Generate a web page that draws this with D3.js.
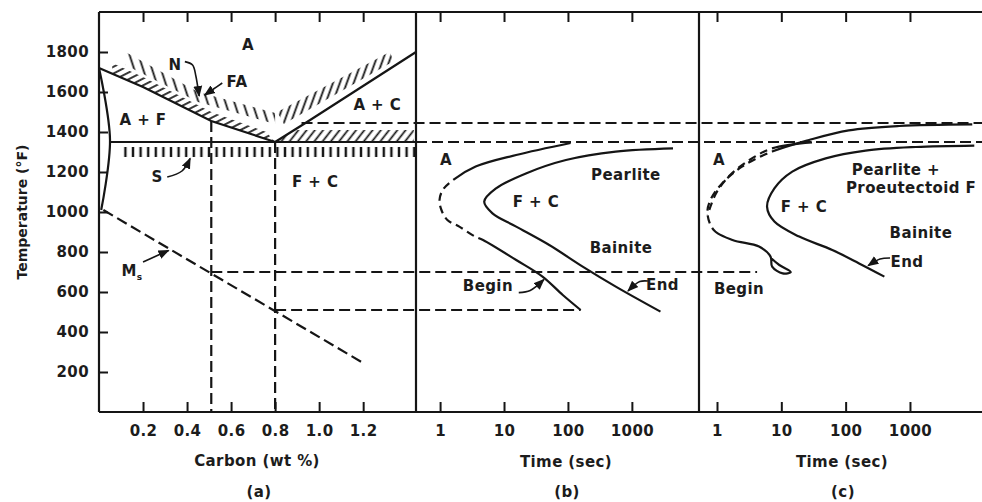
<!DOCTYPE html>
<html>
<head>
<meta charset="utf-8">
<script src="https://cdn.jsdelivr.net/npm/d3@7/dist/d3.min.js"></script>
<style>
body { margin: 0; background: #fff; }
text { font-family: "DejaVu Sans", Arial, sans-serif; font-weight: bold; fill: #1c1c1c; letter-spacing: 0.4px; }
</style>
</head>
<body>
<div id="chart"></div>
<script>
// ---------- data ----------
const tempTicks = [200, 400, 600, 800, 1000, 1200, 1400, 1600, 1800];
const carbonTicks = [0.2, 0.4, 0.6, 0.8, 1.0, 1.2];
const timeTicks = [1, 10, 100, 1000];

// (a) Fe-C diagram, [wt % C, deg F]
const a3Line = [[0, 1720], [0.2, 1625], [0.51, 1455], [0.8, 1350]];
const acmLine = [[0.8, 1350], [0.945, 1450], [1.44, 1800]];
const ferriteLine = [[0, 1720], [0.05, 1360], [0.01, 1010]];
const a1Line = [[0.05, 1350], [1.44, 1350]];
const msLine = [[0.02, 1010], [1.2, 245]];
const faBandLeft = [[0.06, 1692], [0.2, 1625], [0.51, 1455], [0.8, 1350], [0.76, 1400], [0.51, 1500], [0.2, 1675], [0.06, 1745]];
const faBandRight = [[0.8, 1350], [1.43, 1350], [1.43, 1410], [0.89, 1410]];
const nBandLeft = [[0.12, 1800], [0.45, 1600], [0.8, 1495], [0.8, 1440], [0.45, 1550], [0.12, 1735]];
const nBandRight = [[0.81, 1500], [1.32, 1800], [1.34, 1755], [0.84, 1440]];
const sBand = [[0.11, 1275], [1.44, 1275], [1.44, 1325], [0.11, 1325]];
const carbonGuides = [[0.51, 1455], [0.8, 1350]];

// (b) TTT, eutectoid steel, [sec, deg F]
const beginB = [[110, 1345], [15.5, 1285], [3.6, 1227], [1.6, 1160], [1.1, 1110], [0.98, 1060], [1.05, 1010], [1.3, 960], [2.0, 927], [3.4, 880], [4.7, 860], [15.5, 760], [40, 677], [83, 585], [158, 510]];
const endB = [[4400, 1318], [560, 1302], [93, 1260], [22, 1193], [7.5, 1118], [4.9, 1052], [6.6, 993], [15.5, 927], [51, 835], [170, 727], [560, 627], [2800, 502]];

// (c) TTT, hypoeutectoid steel, [sec, deg F]
const ferriteStartC = [[9300, 1438], [680, 1430], [112, 1408], [27, 1360], [7.2, 1302], [2.45, 1227], [1.2, 1143], [0.79, 1060], [0.71, 993], [0.89, 910], [1.74, 860], [4.5, 827], [6.8, 777], [7.2, 727], [10.5, 693], [14, 700], [9.3, 735], [6.9, 770]];
const pearliteStartC = [[30, 1348], [7.2, 1318], [3.2, 1260], [1.6, 1185], [1.0, 1102], [0.79, 1027], [0.72, 985]];
const endC = [[10000, 1332], [1230, 1325], [204, 1307], [49, 1268], [14.8, 1202], [7.8, 1118], [6.0, 1027], [7.8, 952], [19, 877], [62, 810], [162, 743], [400, 677]];

// horizontal guide lines running across the panels: temperature, start, end
const tempGuides = [
  { temp: 1445, from: ['a', 0.92], to: ['c', 13180] },
  { temp: 1350, from: ['b', 0.42], to: ['c', 13180] },
  { temp: 700, from: ['a', 0.51], to: ['c', 4.2] },
  { temp: 510, from: ['a', 0.8], to: ['b', 158] }
];

const labelsA = [
  { t: 'A', c: 0.677, T: 1835 }, { t: 'N', c: 0.345, T: 1735 }, { t: 'FA', c: 0.627, T: 1650 },
  { t: 'A + F', c: 0.2, T: 1460 }, { t: 'A + C', c: 1.264, T: 1535 }, { t: 'S', c: 0.264, T: 1175 },
  { t: 'F + C', c: 0.982, T: 1150 }
];
const labelsB = [
  { t: 'A', s: 1.24, T: 1260 }, { t: 'Pearlite', s: 805, T: 1185 }, { t: 'F + C', s: 31.6, T: 1050 },
  { t: 'Bainite', s: 675, T: 820 }, { t: 'Begin', s: 5.6, T: 630 }, { t: 'End', s: 3020, T: 635 }
];
const labelsC = [
  { t: 'A', s: 1.07, T: 1260 }, { t: 'Pearlite +', s: 605, T: 1210 }, { t: 'Proeutectoid F', s: 1040, T: 1120 },
  { t: 'F + C', s: 22.5, T: 1025 }, { t: 'Bainite', s: 1480, T: 895 }, { t: 'End', s: 900, T: 750 },
  { t: 'Begin', s: 2.2, T: 615 }
];

// pointer arrows
const arrowsA = [
  [[0.39, 1752], [0.425, 1735], [0.44, 1680], [0.455, 1580]],
  [[0.56, 1645], [0.52, 1615], [0.48, 1585]],
  [[0.31, 1175], [0.377, 1205], [0.414, 1268]],
  [[0.2, 750], [0.26, 780], [0.316, 808]]
];
const arrowsB = [
  [[17, 597], [25.7, 608], [42, 662]],
  [[1780, 655], [1330, 652], [870, 605]]
];
const arrowsC = [
  [[490, 770], [343, 765], [224, 732]]
];

// ---------- layout ----------
const W = 982, H = 502;
const svg = d3.select('#chart').append('svg').attr('width', W).attr('height', H);
const ink = '#151515';

const y = d3.scaleLinear().domain([0, 2000]).range([412, 12]);
const xA = d3.scaleLinear().domain([0, 1.44]).range([99, 416]);
const xB = d3.scaleLog().domain([0.42, 11220]).range([416, 699]);
const xC = d3.scaleLog().domain([0.525, 13180]).range([699, 982]);
const xs = { a: xA, b: xB, c: xC };

const defs = svg.append('defs');
function hatch(id, spacing, angle, w) {
  const p = defs.append('pattern').attr('id', id)
    .attr('patternUnits', 'userSpaceOnUse')
    .attr('width', spacing).attr('height', 20)
    .attr('patternTransform', 'rotate(' + angle + ')');
  p.append('line').attr('x1', spacing / 2).attr('x2', spacing / 2)
    .attr('y1', 0).attr('y2', 20).attr('stroke', ink).attr('stroke-width', w);
}
hatch('hS', 7.6, 0, 2.4);
hatch('hFA', 6, 63, 1.7);
hatch('hFA2', 6.5, 38, 1.7);
hatch('hN1', 8.5, -18, 1.8);
hatch('hN2', 6.5, 20, 1.8);

defs.append('marker').attr('id', 'arr')
  .attr('viewBox', '0 0 10 10').attr('refX', 9).attr('refY', 5)
  .attr('markerWidth', 7).attr('markerHeight', 7).attr('orient', 'auto')
  .append('path').attr('d', 'M0,1L10,5L0,9z').attr('fill', ink);

const lineA = d3.line().x(d => xA(d[0])).y(d => y(d[1]));
const curveB = d3.line().x(d => xB(d[0])).y(d => y(d[1])).curve(d3.curveCatmullRom.alpha(0.5));
const curveC = d3.line().x(d => xC(d[0])).y(d => y(d[1])).curve(d3.curveCatmullRom.alpha(0.5));

// hatched bands
const bands = [[faBandLeft, 'hFA'], [faBandRight, 'hFA2'], [nBandLeft, 'hN1'], [nBandRight, 'hN2'], [sBand, 'hS']];
svg.append('g').selectAll('path').data(bands).join('path')
  .attr('d', d => lineA(d[0]) + 'Z')
  .attr('fill', d => 'url(#' + d[1] + ')');

// frame
const yTop = y(2000), yBot = y(0);
const frame = svg.append('g').attr('stroke', ink).attr('stroke-width', 2.2);
frame.append('line').attr('x1', xA.range()[0]).attr('x2', W).attr('y1', yTop).attr('y2', yTop);
frame.append('line').attr('x1', xA.range()[0]).attr('x2', W).attr('y1', yBot).attr('y2', yBot);
[xA.range()[0], xA.range()[1], xB.range()[1]].forEach(x => {
  frame.append('line').attr('x1', x).attr('x2', x).attr('y1', yTop).attr('y2', yBot);
});

// axes
function styleAxis(g) {
  g.select('.domain').remove();
  g.selectAll('.tick line').attr('stroke', ink).attr('stroke-width', 2);
  g.selectAll('.tick text').attr('font-size', 15).attr('fill', '#1c1c1c')
    .style('font-family', '"DejaVu Sans", Arial, sans-serif').style('font-weight', 'bold');
}
svg.append('g').attr('transform', 'translate(' + xA.range()[0] + ',0)')
  .call(d3.axisLeft(y).tickValues(tempTicks).tickFormat(d3.format('d')).tickSizeInner(-9).tickSizeOuter(0).tickPadding(10))
  .call(styleAxis);
svg.append('g').attr('transform', 'translate(0,' + yBot + ')')
  .call(d3.axisBottom(xA).tickValues(carbonTicks).tickFormat(d3.format('.1f')).tickSizeInner(-10).tickSizeOuter(0).tickPadding(13))
  .call(styleAxis);
svg.append('g').attr('transform', 'translate(0,' + yTop + ')')
  .call(d3.axisTop(xA).tickValues(carbonTicks).tickFormat('').tickSizeInner(-10).tickSizeOuter(0))
  .call(styleAxis);
[xB, xC].forEach(sc => {
  svg.append('g').attr('transform', 'translate(0,' + yBot + ')')
    .call(d3.axisBottom(sc).tickValues(timeTicks).tickFormat(d3.format('d')).tickSizeInner(-10).tickSizeOuter(0).tickPadding(13))
    .call(styleAxis);
  svg.append('g').attr('transform', 'translate(0,' + yTop + ')')
    .call(d3.axisTop(sc).tickValues(timeTicks).tickFormat('').tickSizeInner(-10).tickSizeOuter(0))
    .call(styleAxis);
});

// axis titles
svg.append('text').attr('transform', 'translate(27,212) rotate(-90)')
  .attr('text-anchor', 'middle').attr('font-size', 14).style('letter-spacing', '0px').text('Temperature (°F)');
const titles = [['Carbon (wt %)', 257, 466], ['(a)', 259, 497], ['Time (sec)', 566, 467], ['(b)', 567, 497], ['Time (sec)', 842, 467], ['(c)', 843, 497]];
svg.append('g').selectAll('text').data(titles).join('text')
  .attr('x', d => d[1]).attr('y', d => d[2]).attr('text-anchor', 'middle')
  .attr('font-size', 15).text(d => d[0]);

// dashed guides
const guides = svg.append('g').attr('stroke', ink).attr('stroke-width', 2.2)
  .attr('stroke-dasharray', '11,5').attr('fill', 'none');
guides.selectAll('line.h').data(tempGuides).join('line').attr('class', 'h')
  .attr('x1', d => xs[d.from[0]](d.from[1])).attr('x2', d => xs[d.to[0]](d.to[1]))
  .attr('y1', d => y(d.temp)).attr('y2', d => y(d.temp));
guides.selectAll('line.v').data(carbonGuides).join('line').attr('class', 'v')
  .attr('x1', d => xA(d[0])).attr('x2', d => xA(d[0]))
  .attr('y1', d => y(d[1])).attr('y2', y(0));
guides.append('path').attr('d', lineA(msLine));

// phase boundaries (a)
const solid = svg.append('g').attr('stroke', ink).attr('stroke-width', 2.2).attr('fill', 'none');
[a3Line, acmLine, a1Line].forEach(d => solid.append('path').attr('d', lineA(d)));
solid.append('path').attr('d', d3.line().x(d => xA(d[0])).y(d => y(d[1])).curve(d3.curveCatmullRom)(ferriteLine));

// length along path nearest to a point
function lengthAt(node, px, py) {
  const L = node.getTotalLength();
  let best = 0, bd = 1e9;
  for (let l = 0; l <= L; l += 0.5) {
    const p = node.getPointAtLength(l);
    const d = (p.x - px) ** 2 + (p.y - py) ** 2;
    if (d < bd) { bd = d; best = l; }
  }
  return best;
}
// draw a curve with a dashed stretch between two of its points
function drawCurve(gen, data, from, to) {
  const p = solid.append('path').attr('d', gen(data));
  if (from == null) return p;
  const node = p.node(), L = node.getTotalLength();
  const l1 = from <= 0 ? 0 : lengthAt(node, gen.x()(data[from]), gen.y()(data[from]));
  const l2 = to >= data.length - 1 ? L : lengthAt(node, gen.x()(data[to]), gen.y()(data[to]));
  const arr = [l1];
  let pos = l1, on = false;
  while (pos < l2) { const s = on ? 8 : 5; arr.push(s); pos += s; on = !on; }
  if (arr.length % 2 === 1) arr.push(0);
  arr.push(L * 2, 0);
  p.attr('stroke-dasharray', arr.join(','));
  return p;
}
drawCurve(curveB, beginB, 3, 9);
drawCurve(curveB, endB);
drawCurve(curveC, ferriteStartC, 4, 9);
drawCurve(curveC, pearliteStartC, 1, pearliteStartC.length - 1);
drawCurve(curveC, endC);

// arrows
const arrowG = svg.append('g').attr('stroke', ink).attr('stroke-width', 1.6).attr('fill', 'none');
const smoothA = d3.line().x(d => xA(d[0])).y(d => y(d[1])).curve(d3.curveCatmullRom);
const smoothB = d3.line().x(d => xB(d[0])).y(d => y(d[1])).curve(d3.curveCatmullRom);
const smoothC = d3.line().x(d => xC(d[0])).y(d => y(d[1])).curve(d3.curveCatmullRom);
arrowsA.forEach(d => arrowG.append('path').attr('d', smoothA(d)).attr('marker-end', 'url(#arr)'));
arrowsB.forEach(d => arrowG.append('path').attr('d', smoothB(d)).attr('marker-end', 'url(#arr)'));
arrowsC.forEach(d => arrowG.append('path').attr('d', smoothC(d)).attr('marker-end', 'url(#arr)'));

// region labels
function addLabels(data, xf) {
  svg.append('g').selectAll('text').data(data).join('text')
    .attr('x', xf).attr('y', d => y(d.T)).attr('dy', '0.36em')
    .attr('text-anchor', 'middle').attr('font-size', 15).text(d => d.t);
}
addLabels(labelsA, d => xA(d.c));
addLabels(labelsB, d => xB(d.s));
addLabels(labelsC, d => xC(d.s));

// Ms label with subscript
const ms = svg.append('text').attr('x', xA(0.15)).attr('y', y(705)).attr('dy', '0.36em')
  .attr('text-anchor', 'middle').attr('font-size', 15);
ms.append('tspan').text('M');
ms.append('tspan').attr('font-size', 9).attr('dy', '4').text('s');
</script>
</body>
</html>
